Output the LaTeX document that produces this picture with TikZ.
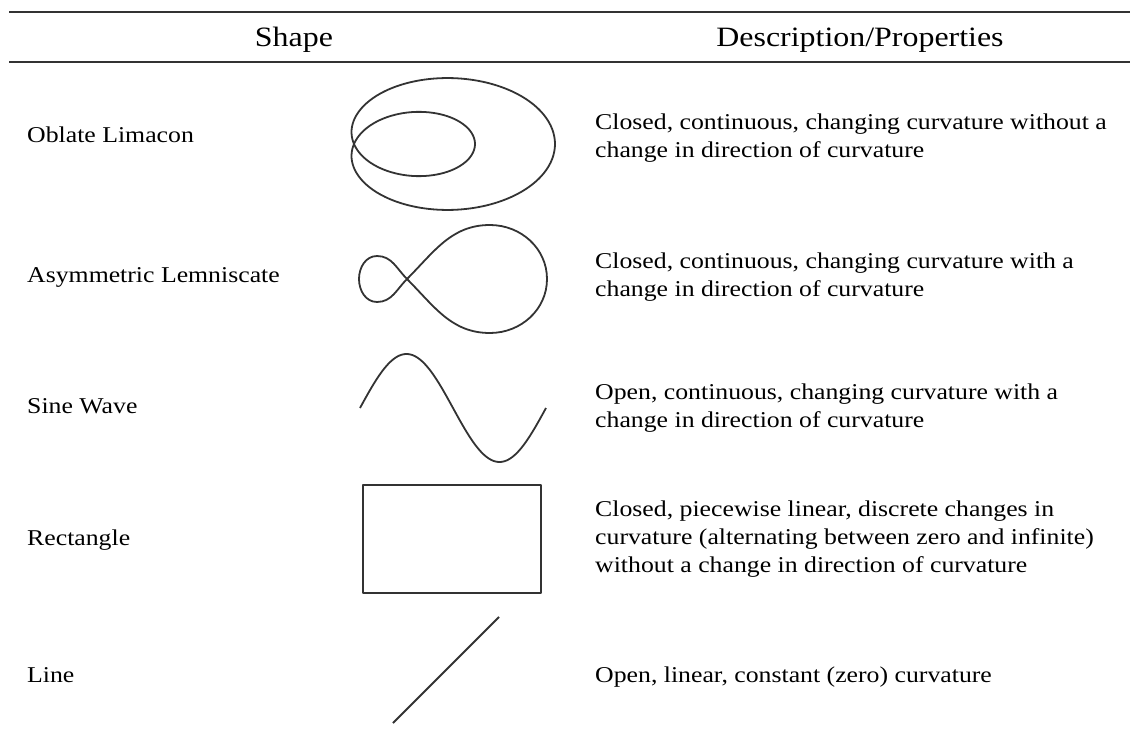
\documentclass[tikz,border=0pt]{standalone}
\usepackage{fontspec}
\setmainfont{Liberation Serif}[FakeStretch=1.14]

\begin{document}
\begin{tikzpicture}[x=1pt,y=-1pt,line join=round]
\tikzset{
% text styles for the table
headtext/.style={inner sep=0,anchor=base,font=\fontsize{28}{32}\selectfont},
shapetext/.style={inner sep=0,anchor=base west,font=\fontsize{22.6}{28}\selectfont},
% base of a multi-line node is its last line
desctext/.style={inner sep=0,anchor=base west,align=left,font=\fontsize{22.6}{28}\selectfont},
% line styles
rule/.style={line width=2pt,black!80},
curve/.style={line width=1.8pt,black!80}
}
\useasboundingbox (0,0) rectangle (1130,738);

% header rules
\draw[rule] (9,12) -- (1130,12);
\draw[rule] (9,62) -- (1130,62);
\node[headtext] (shapehead) at (294,47) {Shape};
\node[headtext] (deschead) at (860,47) {Description/Properties};

% names of the shapes
\node[shapetext] (limacon) at (27,143) {Oblate Limacon};
\node[shapetext] (lemniscate) at (27,282) {Asymmetric Lemniscate};
\node[shapetext] (sine) at (27,413) {Sine Wave};
\node[shapetext] (rect) at (27,545) {Rectangle};
\node[shapetext] (line) at (27,682) {Line};

% descriptions
\node[desctext] (limacondesc) at (595,158) {Closed, continuous, changing curvature without a\\change in direction of curvature};
\node[desctext] (lemniscatedesc) at (595,296) {Closed, continuous, changing curvature with a\\change in direction of curvature};
\node[desctext] (sinedesc) at (595,427) {Open, continuous, changing curvature with a\\change in direction of curvature};
\node[desctext] (rectdesc) at (595,572) {Closed, piecewise linear, discrete changes in\\curvature (alternating between zero and infinite)\\without a change in direction of curvature};
\node[desctext] (linedesc) at (595,682) {Open, linear, constant (zero) curvature};

% oblate limacon r = b + a cos t, squashed
\draw[curve] plot[domain=0:360,samples=200,smooth]
  ({354+(40+161*cos(\x))*cos(\x)},{144+0.6*(40+161*cos(\x))*sin(\x)});

% lemniscate, big loop then small loop
\coordinate (cross) at (407,279);
\draw[curve] (cross) to[out=45,in=180] (490,225) to[out=0,in=90] (547,279)
  to[out=-90,in=0] (490,333) to[out=180,in=-45] (cross)
  to[out=135,in=0] (377,256) to[out=180,in=90] (359,279)
  to[out=-90,in=180] (377,302) to[out=0,in=-135] (cross);

% sine wave, one period
\draw[curve] plot[domain=0:360,samples=100,smooth] ({360+0.51667*\x},{408-54*sin(\x)});

% rectangle
\draw[curve,line width=2.2pt] (363,485) rectangle (541,593);

% line
\coordinate (linea) at (393,723);
\coordinate (lineb) at (499,617);
\draw[curve] (linea) -- (lineb);
\end{tikzpicture}
\end{document}
